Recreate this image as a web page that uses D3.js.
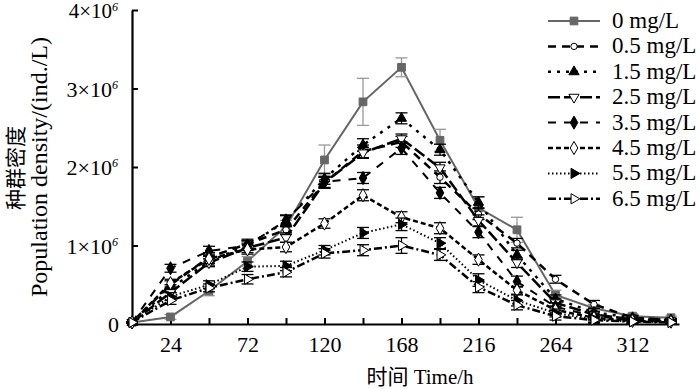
<!DOCTYPE html>
<html><head><meta charset="utf-8">
<script src="https://cdn.jsdelivr.net/npm/d3@7"></script>
<style>body{margin:0;background:#fff}svg text{font-family:"Liberation Serif","Times New Roman",Times,"DejaVu Serif",serif}svg text .cjk, svg text.cjk{font-family:"Noto Sans CJK SC",sans-serif}</style>
</head><body>
<svg id="c" width="700" height="389"></svg>
<script>
// ---- data (population density, ×10^6 ind./L) ----
const times = [0,24,48,72,96,120,144,168,192,216,240,264,288,312,336];
const seriesNames = ["0 mg/L","0.5 mg/L","1.5 mg/L","2.5 mg/L","3.5 mg/L","4.5 mg/L","5.5 mg/L","6.5 mg/L"];
const v00 = [0.02,0.09,0.42,0.80,1.24,2.09,2.83,3.27,2.34,1.48,1.20,0.37,0.20,0.10,0.08];
const v05 = [0.02,0.50,0.85,1.02,1.20,1.80,2.20,2.32,1.87,1.40,1.03,0.57,0.25,0.08,0.05];
const v15 = [0.02,0.45,0.80,1.00,1.31,1.85,2.28,2.62,2.22,1.55,0.88,0.32,0.15,0.08,0.05];
const v25 = [0.02,0.40,0.78,0.97,1.10,1.80,2.18,2.36,1.99,1.32,0.78,0.27,0.12,0.06,0.04];
const v35 = [0.02,0.71,0.93,1.00,1.32,1.81,1.86,2.24,1.67,1.17,0.54,0.22,0.10,0.05,0.04];
const v45 = [0.02,0.52,0.83,0.95,0.98,1.28,1.64,1.36,1.22,0.82,0.43,0.18,0.08,0.04,0.03];
const v55 = [0.02,0.35,0.50,0.73,0.74,0.94,1.16,1.27,1.03,0.56,0.30,0.14,0.06,0.03,0.02];
const v65 = [0.02,0.30,0.46,0.57,0.66,0.90,0.94,1.00,0.88,0.47,0.24,0.10,0.05,0.03,0.02];
const e00 = [0.01,0.03,0.06,0.06,0.08,0.19,0.30,0.12,0.14,0.14,0.16,0.06,0.05,0.03,0.02];
const e05 = [0.01,0.05,0.06,0.06,0.06,0.07,0.08,0.07,0.08,0.07,0.06,0.05,0.05,0.03,0.02];
const e15 = [0.01,0.05,0.06,0.06,0.07,0.07,0.08,0.07,0.07,0.07,0.06,0.05,0.05,0.03,0.02];
const e25 = [0.01,0.05,0.05,0.06,0.06,0.07,0.07,0.06,0.07,0.07,0.06,0.05,0.04,0.03,0.02];
const e35 = [0.01,0.05,0.06,0.06,0.07,0.07,0.07,0.08,0.07,0.07,0.07,0.05,0.04,0.03,0.02];
const e45 = [0.01,0.05,0.06,0.06,0.06,0.06,0.07,0.07,0.07,0.06,0.05,0.05,0.04,0.03,0.02];
const e55 = [0.01,0.05,0.05,0.06,0.06,0.06,0.07,0.08,0.07,0.08,0.07,0.05,0.04,0.03,0.02];
const e65 = [0.01,0.05,0.05,0.06,0.06,0.06,0.07,0.10,0.07,0.07,0.06,0.05,0.04,0.03,0.02];
const xTickLabels = [24,72,120,168,216,264,312];
const yTickValues = [0,1,2,3,4];

const values = [v00,v05,v15,v25,v35,v45,v55,v65];
const errors = [e00,e05,e15,e25,e35,e45,e55,e65];
// ---- styles ----
const styles = [
  {color:"#666", dash:null, w:2, sym:d3.symbolSquare, size:60, fill:"#666", rot:0},
  {color:"#000", dash:"8,6", w:2.5, sym:d3.symbolCircle, size:32, fill:"#fff", rot:0},
  {color:"#000", dash:"3,6", w:2.5, sym:d3.symbolTriangle, size:45, fill:"#000", rot:0},
  {color:"#000", dash:"12,4", w:2.5, sym:d3.symbolTriangle, size:45, fill:"#fff", rot:180},
  {color:"#000", dash:"8,8", w:2, sym:d3.symbolDiamond, size:50, fill:"#000", rot:0},
  {color:"#000", dash:"5,3", w:2.5, sym:d3.symbolDiamond, size:50, fill:"#fff", rot:0},
  {color:"#000", dash:"1.5,2.5", w:2, sym:d3.symbolTriangle, size:45, fill:"#000", rot:90},
  {color:"#000", dash:"8,3,2,3", w:2.5, sym:d3.symbolTriangle, size:45, fill:"#fff", rot:90}
];

const svg = d3.select("#c");
const x = d3.scaleLinear().domain([0,341]).range([132,679]);
const y = d3.scaleLinear().domain([0,4]).range([324,10]);

// axes
const xAxis = d3.axisBottom(x).tickValues(d3.range(24,337,24)).tickSizeInner(-6).tickSizeOuter(0)
  .tickFormat(d => xTickLabels.includes(d) ? d : "");
const gx = svg.append("g").attr("transform","translate(0,324)").call(xAxis);
gx.attr("font-family",null);
gx.select(".domain").attr("stroke","#000").attr("stroke-width",2.2);
gx.selectAll(".tick line").attr("stroke","#000").attr("stroke-width",2);
gx.selectAll(".tick text").attr("font-size",22).attr("fill","#000").attr("dy","1.15em");

const yAxis = d3.axisLeft(y).tickValues(yTickValues).tickSizeInner(-6).tickSizeOuter(0).tickFormat("");
const gy = svg.append("g").attr("transform","translate(132,0)").call(yAxis);
gy.select(".domain").attr("stroke","#000").attr("stroke-width",2.2);
gy.selectAll(".tick line").attr("stroke","#000").attr("stroke-width",2);
yTickValues.forEach(v => {
  const t = svg.append("text").attr("x", v===0 ? 119 : 112).attr("y", y(v)+8)
    .attr("text-anchor","end").attr("font-size", v===4 ? 21 : 22).attr("fill","#000");
  if (v===0) { t.text("0"); }
  else {
    t.text(v+"×10");
    svg.append("text").attr("x",112).attr("y",y(v)+(v===4?1:0)).attr("font-size",12).attr("font-style","italic").text("6");
  }
});

// axis titles
svg.append("text").attr("class","cjk").attr("transform","translate(23,168) rotate(-90)").attr("text-anchor","middle")
  .attr("font-size",21).attr("fill","#000").text("种群密度");
svg.append("text").attr("transform","translate(47,167) rotate(-90)").attr("text-anchor","middle")
  .attr("font-size",24).attr("fill","#000").text("Population density/(ind./L)");
const xt = svg.append("text").attr("x",420).attr("y",384).attr("text-anchor","middle").attr("font-size",21).attr("fill","#000");
xt.append("tspan").attr("class","cjk").text("时间");
xt.append("tspan").text(" Time/h");

// series
const line = d3.line().x(d=>x(d.t)).y(d=>y(d.v));
const gS = svg.append("g");
values.forEach((vals,i) => {
  const st = styles[i];
  const pts = times.map((t,k)=>({t, v:vals[k], e:errors[i][k]}));
  gS.append("path").datum(pts).attr("d",line).attr("fill","none").attr("stroke",st.color)
    .attr("stroke-width",st.w).attr("stroke-dasharray",st.dash);
  const eb = gS.append("g").attr("stroke", i===0 ? "#999" : "#000").attr("stroke-width",1.3);
  pts.forEach(p => {
    const y1 = y(Math.max(0,p.v-p.e)), y2 = y(p.v+p.e), cx = x(p.t);
    eb.append("line").attr("x1",cx).attr("x2",cx).attr("y1",y1).attr("y2",y2);
    eb.append("line").attr("x1",cx-6).attr("x2",cx+6).attr("y1",y2).attr("y2",y2);
    eb.append("line").attr("x1",cx-6).attr("x2",cx+6).attr("y1",y1).attr("y2",y1);
  });
  const sym = d3.symbol().type(st.sym).size(st.size);
  gS.append("g").selectAll("path").data(pts).join("path")
    .attr("d",sym).attr("transform",p=>`translate(${x(p.t)},${y(p.v)}) rotate(${st.rot})`)
    .attr("fill",st.fill).attr("stroke",st.color).attr("stroke-width",1);
});

// legend
const lg = svg.append("g");
seriesNames.forEach((name,i) => {
  const st = styles[i];
  const ly = 21 + i*25.4;
  lg.append("line").attr("x1",548).attr("x2",600).attr("y1",ly).attr("y2",ly)
    .attr("stroke",st.color).attr("stroke-width",st.w).attr("stroke-dasharray",st.dash);
  lg.append("path").attr("d",d3.symbol().type(st.sym).size(st.size)())
    .attr("transform",`translate(574,${ly}) rotate(${st.rot})`)
    .attr("fill",st.fill).attr("stroke",st.color).attr("stroke-width",1);
  lg.append("text").attr("x",612).attr("y",ly+7).attr("font-size",23).attr("fill","#000").text(name);
});
</script>
</body></html>
